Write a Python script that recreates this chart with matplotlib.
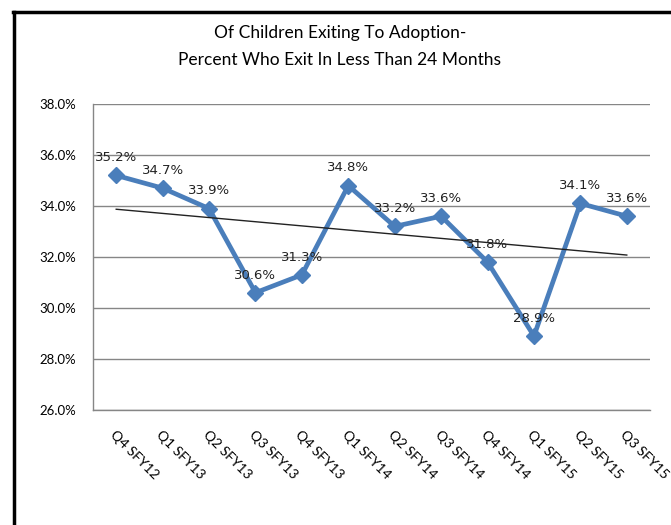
import matplotlib
matplotlib.use("Agg")
import matplotlib.pyplot as plt
from matplotlib.lines import Line2D
import numpy as np

categories = ["Q4 SFY12", "Q1 SFY13", "Q2 SFY13", "Q3 SFY13", "Q4 SFY13", "Q1 SFY14",
              "Q2 SFY14", "Q3 SFY14", "Q4 SFY14", "Q1 SFY15", "Q2 SFY15", "Q3 SFY15"]
values = [35.2, 34.7, 33.9, 30.6, 31.3, 34.8, 33.2, 33.6, 31.8, 28.9, 34.1, 33.6]
yticks = [26, 28, 30, 32, 34, 36, 38]

W, H = 671, 525
fig = plt.figure(figsize=(W / 100, H / 100), dpi=100)
ax = fig.add_axes([93 / W, 1 - 410 / H, (650 - 93) / W, (410 - 104) / H])

x = np.arange(len(values))
ax.plot(x, values, color="#4A7EBB", linewidth=3.4, marker="D", markersize=8,
        markerfacecolor="#4A7EBB", markeredgecolor="#4A7EBB", zorder=3)

coef = np.polyfit(x, values, 1)
ax.plot([x[0], x[-1]], np.polyval(coef, [x[0], x[-1]]), color="#222222", linewidth=1.0, zorder=4)

for xi, v in zip(x, values):
    ax.annotate(f"{v:.1f}%", (xi, v), xytext=(0, 8), textcoords="offset points",
                ha="center", va="bottom", fontsize=9.5, family="DejaVu Sans", color="#222222", zorder=5)

ax.set_xlim(-0.5, len(values) - 0.5)
ax.set_ylim(26, 38)
ax.set_yticks(yticks)
ax.set_yticklabels([f"{t:.1f}%" for t in yticks], family="Lato", fontsize=9.5)
ax.set_xticks(x)
ax.set_xticklabels(categories, rotation=-45, ha="left", va="top", rotation_mode="anchor",
                   family="Lato", fontsize=10)
ax.tick_params(axis="both", length=0, pad=12)
ax.tick_params(axis="x", pad=13)
ax.grid(axis="y", color="#868686", linewidth=1.0)
ax.set_axisbelow(True)
for s in ["top", "right"]:
    ax.spines[s].set_visible(False)
for s in ["left", "bottom"]:
    ax.spines[s].set_color("#868686")
    ax.spines[s].set_linewidth(1.0)

fig.text(340 / W, 1 - 33 / H, "Of Children Exiting To Adoption-", ha="center", va="center",
         family="Lato", fontsize=12.5)
fig.text(340 / W, 1 - 60 / H, "Percent Who Exit In Less Than 24 Months", ha="center", va="center",
         family="Lato", fontsize=12.5)

fig.add_artist(Line2D([14 / W, 14 / W], [0, 1 - 12 / H], transform=fig.transFigure, color="black", linewidth=2.5))
fig.add_artist(Line2D([13 / W, 1], [1 - 12 / H, 1 - 12 / H], transform=fig.transFigure, color="black", linewidth=2.5))

fig.savefig("out.png", dpi=100)
